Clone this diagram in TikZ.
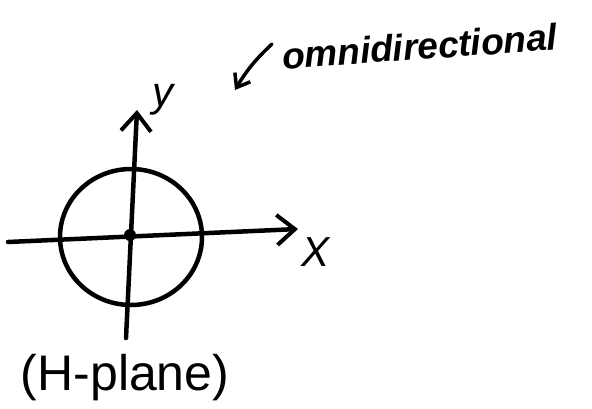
\documentclass[tikz,border=0pt]{standalone}
\usepackage{fontspec}
\setmainfont{Liberation Sans}
\usetikzlibrary{arrows.meta,positioning}

\begin{document}
\begin{tikzpicture}[x=1pt, y=-1pt, line width=4.5pt, line cap=round,
  axis/.style={-{Straight Barb[length=18pt,width=30pt,line width=4pt]}},
  lbl/.style={font=\fontsize{42}{46}\selectfont\itshape, inner sep=0pt}]
  \useasboundingbox (0,0) rectangle (592,408);
  % centre and axis ends
  \coordinate (o) at (130,235);
  \coordinate (xl) at (8,242);
  \coordinate (xr) at (298,229);
  \coordinate (yb) at (126,338);
  \coordinate (yt) at (137,110);
  % pattern and axes
  \draw (131,237) ellipse [x radius=71, y radius=68];
  \draw[axis] (xl) -- (xr);
  \draw[axis] (yb) -- (yt);
  \fill (o) circle (6);
  \node[lbl] (xlab) at (316,252) {X};
  \node[lbl] (ylab) at (163,100) {y};
  % labels
  \node[font=\fontsize{37}{42}\selectfont\bfseries\itshape, inner sep=0pt, rotate=4, anchor=west] (omni) at (280,56) {omnidirectional};
  \coordinate (otip) at (235,90);
  \draw[line width=3.5pt, -{Straight Barb[length=12pt,width=18pt,line width=3.5pt]}] ([shift={(-8,-12)}]omni.west) to[bend right=8] (otip);
  \node[font=\fontsize{50}{56}\selectfont, inner sep=0pt] (plane) at (125,378) {(H-plane)};
\end{tikzpicture}
\end{document}
